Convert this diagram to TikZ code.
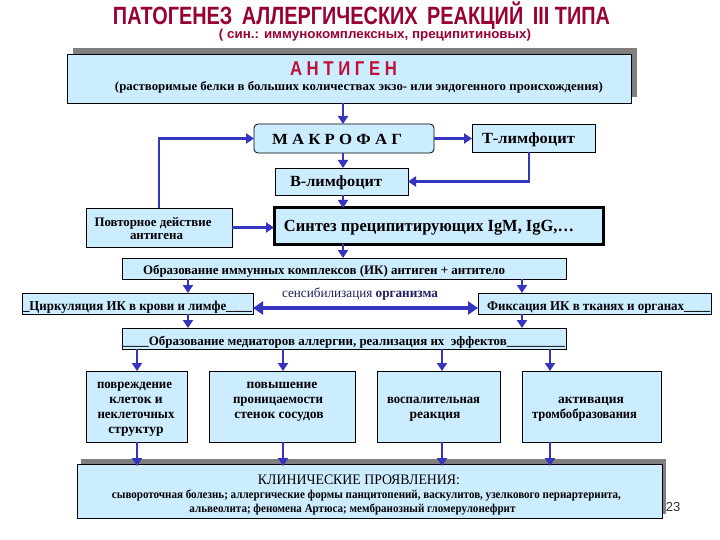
\documentclass[tikz,border=0pt]{standalone}
\usepackage{fontspec}
\setmainfont{Liberation Serif}
\newfontfamily\sansf{Liberation Sans}
\usetikzlibrary{arrows.meta}
\definecolor{boxfill}{HTML}{CCECFF}
\definecolor{arrowc}{HTML}{3535C0}
\definecolor{titlec}{HTML}{990033}
\definecolor{antc}{HTML}{C0103A}
\definecolor{shadowc}{HTML}{7F7F7F}
\definecolor{navy}{HTML}{202060}
\newcommand\fitw[2]{\resizebox{#1}{\height}{#2}}
\newcommand\fs[1]{\fontsize{#1}{#1}\selectfont}
\begin{document}
\begin{tikzpicture}[x=1pt,y=-1pt,
  box/.style={draw=black, line width=0.8pt, fill=boxfill, inner sep=0pt, outer sep=0pt},
  lbl/.style={inner sep=0pt, outer sep=0pt, anchor=base},
  arr/.style={draw=arrowc, line width=2.8pt, -{Triangle[width=10pt,length=8pt]}},
  dbl/.style={draw=arrowc, line width=4pt, {Triangle[width=13pt,length=10pt]}-{Triangle[width=13pt,length=10pt]}},
]
\useasboundingbox[fill=white] (0,0) rectangle (720,540);

% title
\node[lbl, text=titlec] (ttl) at (361.5,25) {\fitw{497pt}{\sansf\bfseries\fs{25}ПАТОГЕНЕЗ\hspace{12pt}АЛЛЕРГИЧЕСКИХ\hspace{12pt}РЕАКЦИЙ\hspace{12pt}III ТИПА}};
\node[lbl, text=titlec] (sub) at (375,39) {\fitw{312pt}{\sansf\bfseries\fs{13}( син.: иммунокомплексных, преципитиновых)}};

% antigen
\fill[shadowc] (73,48) rectangle (637,97);
\node[box, minimum width=564pt, minimum height=49pt] (ant) at (349,78.5) {};
\node[lbl, text=antc] (antt) at (343.5,76) {\fitw{107pt}{\sansf\bfseries\fs{20}А Н Т И Г Е Н}};
\node[lbl] (ants) at (359,91) {\fitw{488pt}{\bfseries\fs{12.5}(растворимые белки в больших количествах экзо- или эндогенного происхождения)}};

% macrophage row
\node[box, rounded corners=4pt, minimum width=180pt, minimum height=29pt] (mak) at (344,138.5) {};
\node[lbl] (makt) at (337,145) {\fitw{130pt}{\bfseries\fs{15.5}М А К Р О Ф А Г}};
\node[box, minimum width=123pt, minimum height=28pt] (tl) at (533.5,138.5) {};
\node[lbl] (tlt) at (528.5,144) {\fitw{93pt}{\bfseries\fs{15.5}Т-лимфоцит}};
\node[box, minimum width=133pt, minimum height=27pt] (bl) at (341.5,181.5) {};
\node[lbl] (blt) at (336,187) {\fitw{92pt}{\bfseries\fs{15.5}В-лимфоцит}};

% synthesis
\node[box, line width=3pt, minimum width=329pt, minimum height=36pt] (sin) at (438.5,226) {};
\node[lbl] (sint) at (429,232) {\fitw{290pt}{\bfseries\fs{17}Синтез преципитирующих IgM, IgG,…}};
\node[box, minimum width=146pt, minimum height=39pt] (pov) at (159,227.5) {};
\node[lbl] (povt1) at (153,226) {\fitw{117pt}{\bfseries\fs{13}Повторное действие}};
\node[lbl] (povt2) at (156.5,240) {\fitw{53pt}{\bfseries\fs{13}антигена}};

% immune complexes
\node[box, minimum width=444pt, minimum height=21pt] (ik) at (344,268.5) {};
\node[lbl] (ikt) at (324,274) {\fitw{362pt}{\bfseries\fs{13}Образование иммунных комплексов (ИК) антиген + антитело}};
\node[box, minimum width=231pt, minimum height=21pt] (ts) at (137.5,303.5) {};
\node[lbl] (tst) at (137.5,310) {\fitw{229pt}{\bfseries\fs{13.5}\_Циркуляция ИК в крови и лимфе\_\_\_\_}};
\node[box, minimum width=233pt, minimum height=21pt] (fk) at (594.5,303.5) {};
\node[lbl] (fkt) at (598.5,310) {\fitw{223pt}{\bfseries\fs{13.5}Фиксация ИК в тканях и органах\_\_\_\_}};
\node[lbl, text=navy] (sens) at (360,297) {\fitw{156pt}{\fs{13.5}сенсибилизация \bfseries организма}};

% mediators
\node[box, minimum width=444pt, minimum height=21pt] (med) at (344,338.5) {};
\node[lbl] (medt) at (344,345) {\fitw{442pt}{\bfseries\fs{13}\_\_\_\_Образование медиаторов аллергии, реализация их\ \ эффектов\_\_\_\_\_\_\_\_\_}};

% effect boxes
\node[box, minimum width=101pt, minimum height=71pt] (b1) at (136.5,406.5) {};
\node[box, minimum width=146pt, minimum height=71pt] (b2) at (282,406.5) {};
\node[box, minimum width=123pt, minimum height=71pt] (b3) at (438.5,406.5) {};
\node[box, minimum width=139pt, minimum height=71pt] (b4) at (591.5,406.5) {};
\node[lbl] (b1a) at (134.5,388) {\fitw{75pt}{\bfseries\fs{13.5}повреждение}};
\node[lbl] (b1b) at (136,403) {\bfseries\fs{13.5}клеток и};
\node[lbl] (b1c) at (136,418) {\fitw{77pt}{\bfseries\fs{13.5}неклеточных}};
\node[lbl] (b1d) at (136,433) {\bfseries\fs{13.5}структур};
\node[lbl] (b2a) at (282,388) {\bfseries\fs{13.5}повышение};
\node[lbl] (b2b) at (278,403) {\fitw{90pt}{\bfseries\fs{13.5}проницаемости}};
\node[lbl] (b2c) at (279,418) {\bfseries\fs{13.5}стенок сосудов};
\node[lbl] (b3a) at (433.5,403) {\fitw{93pt}{\bfseries\fs{13.5}воспалительная}};
\node[lbl] (b3b) at (435,418) {\bfseries\fs{13.5}реакция};
\node[lbl] (b4a) at (591,403) {\bfseries\fs{13.5}активация};
\node[lbl] (b4b) at (584.5,418) {\fitw{105pt}{\bfseries\fs{13.5}тромбобразования}};

% clinical
\fill[shadowc] (81,459) rectangle (666,514);
\node[box, minimum width=585pt, minimum height=54pt] (cl) at (369.5,491) {};
\node[lbl] (clt) at (359,484) {\fitw{202pt}{\fs{14.5}КЛИНИЧЕСКИЕ ПРОЯВЛЕНИЯ:}};
\node[lbl] (cl2) at (366.5,498) {\fitw{509pt}{\bfseries\fs{12}сывороточная болезнь; аллергические формы панцитопений, васкулитов, узелкового периартериита,}};
\node[lbl] (cl3) at (352.5,512) {\fitw{326pt}{\bfseries\fs{12}альвеолита; феномена Артюса; мембранозный гломерулонефрит}};
\node[lbl, text=black!80] (pg) at (673,511) {\sansf\fs{13}23};

% helper coordinates
\coordinate (cx) at (343,0);
\coordinate (xl) at (188,0);
\coordinate (xr) at (522,0);
\coordinate (dy) at (0,308);
\coordinate (a1) at (137,0);
\coordinate (a2) at (283,0);
\coordinate (a3) at (442,0);
\coordinate (a4) at (550,0);
\coordinate (tx) at (529,0);

% connectors
\draw[arr] (cx |- ant.south) -- (cx |- mak.north);
\draw[arr] (mak.east) -- (tl.west);
\draw[arr] (cx |- mak.south) -- (cx |- bl.north);
\draw[arr] (tx |- tl.south) |- (bl.east);
\draw[arr] (cx |- bl.south) -- (cx |- sin.north);
\draw[arr] (pov.north) |- (mak.west);
\draw[arr] (pov.east) -- (pov.east -| sin.west);
\draw[arr] (cx |- sin.south) -- (cx |- ik.north);
\draw[arr] (xl |- ik.south) -- (xl |- ts.north);
\draw[arr] (xr |- ik.south) -- (xr |- fk.north);
\draw[dbl] (ts.east |- dy) -- (fk.west |- dy);
\draw[arr] (xl |- ts.south) -- (xl |- med.north);
\draw[arr] (xr |- fk.south) -- (xr |- med.north);
\draw[arr] (a1 |- med.south) -- (a1 |- b1.north);
\draw[arr] (a2 |- med.south) -- (a2 |- b2.north);
\draw[arr] (a3 |- med.south) -- (a3 |- b3.north);
\draw[arr] (a4 |- med.south) -- (a4 |- b4.north);
\draw[arr] (a1 |- b1.south) -- ([yshift=-2pt]a1 |- cl.north);
\draw[arr] (a2 |- b2.south) -- ([yshift=-2pt]a2 |- cl.north);
\draw[arr] (a3 |- b3.south) -- ([yshift=-2pt]a3 |- cl.north);
\draw[arr] (a4 |- b4.south) -- ([yshift=-2pt]a4 |- cl.north);
\end{tikzpicture}
\end{document}
